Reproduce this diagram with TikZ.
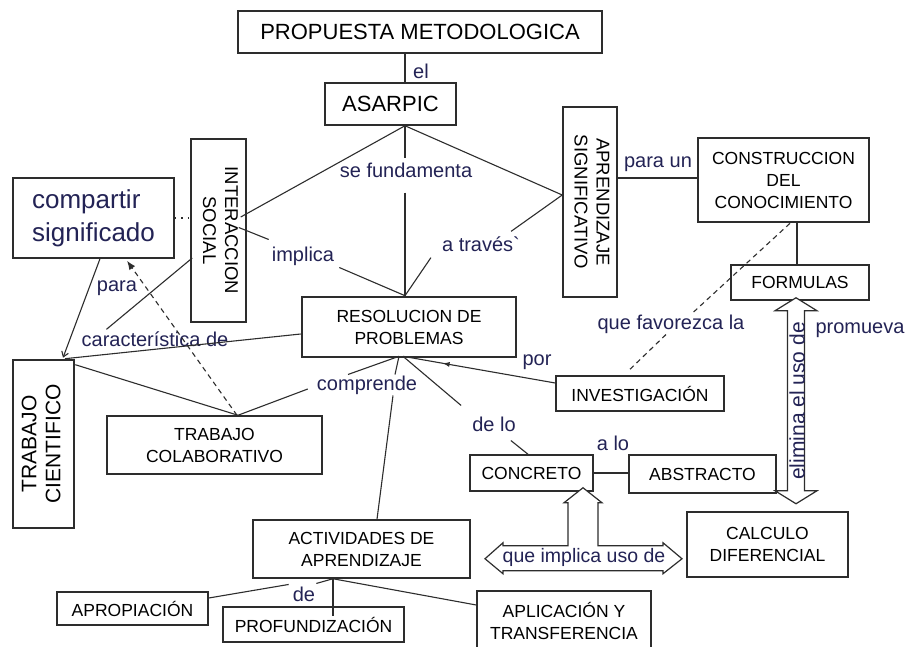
\documentclass[tikz,border=0pt]{standalone}
\usepackage{fontspec}
\setmainfont{Liberation Sans}
\usepackage{graphicx}
\usetikzlibrary{calc,arrows.meta,decorations.markings}
\definecolor{lab}{RGB}{35,35,85}
\definecolor{ln}{RGB}{45,45,45}
\begin{document}
\begin{tikzpicture}[x=1pt,y=-1pt,
  box/.style={draw=ln, line width=1.5pt, inner sep=0pt, align=center,
    font=\fontsize{17.5}{22}\selectfont, text=black},
  thickbox/.style={box, line width=2.6pt},
  vfont/.style={font=\fontsize{18.5}{22}\selectfont},
  lbl/.style={inner sep=1pt, text=lab, font=\fontsize{20}{22}\selectfont},
  conn/.style={draw=ln, line width=1.1pt},
  dconn/.style={conn, dash pattern=on 5pt off 4pt},
  fatarrow/.style={draw=ln, line width=1.2pt, fill=white, line join=miter}
]
\useasboundingbox (0,0) rectangle (906,646);
\fill[white] (0,0) rectangle (906,646);

% ---------- boxes ----------
\node[box, minimum width=364, minimum height=42, font=\fontsize{22}{24}\selectfont] (prop) at (420,32) {PROPUESTA METODOLOGICA};
\node[box, minimum width=131, minimum height=42, font=\fontsize{22}{24}\selectfont] (asa) at (390.5,104) {ASARPIC};
\node[box, vfont, minimum width=55, minimum height=183] (inter) at (218.5,230.5)
  {\rotatebox{-90}{\begin{tabular}{@{}c@{}}INTERACCION\\SOCIAL\end{tabular}}};
\node[box, minimum width=161, minimum height=80, align=left, text=lab,
  font=\fontsize{26}{33}\selectfont] (comp) at (93.5,218) {compartir\\significado};
\node[box, vfont, minimum width=54, minimum height=190] (aprend) at (590,202)
  {\rotatebox{-90}{\begin{tabular}{@{}c@{}}APRENDIZAJE\\SIGNIFICATIVO\end{tabular}}};
\node[thickbox, minimum width=171, minimum height=84] (constr) at (783.5,180) {CONSTRUCCION\\DEL\\CONOCIMIENTO};
\node[box, minimum width=138, minimum height=35] (form) at (800,282.5) {FORMULAS};
\node[thickbox, minimum width=214, minimum height=60] (res) at (409,327) {RESOLUCION DE\\PROBLEMAS};
\node[thickbox, font=\fontsize{21}{24}\selectfont, minimum width=61, minimum height=168] (tcient) at (43.5,444)
  {\rotatebox{90}{\begin{tabular}{@{}c@{}}TRABAJO\\CIENTIFICO\end{tabular}}};
\node[box, minimum width=215, minimum height=58] (tcol) at (214.5,445) {TRABAJO\\COLABORATIVO};
\node[box, minimum width=168, minimum height=35] (inv) at (640,393.5) {INVESTIGACIÓN};
\node[box, minimum width=123, minimum height=36] (conc) at (531.5,473) {CONCRETO};
\node[thickbox, minimum width=147, minimum height=38] (abs) at (702.5,474) {ABSTRACTO};
\node[box, minimum width=161, minimum height=65] (calc) at (767.5,544.5) {CALCULO\\DIFERENCIAL};
\node[box, minimum width=217, minimum height=58] (act) at (361.5,549) {ACTIVIDADES DE\\APRENDIZAJE};
\node[box, minimum width=151, minimum height=33] (apro) at (132.5,608.5) {APROPIACIÓN};
\node[box, minimum width=181, minimum height=35] (prof) at (313.5,624.5) {PROFUNDIZACIÓN};
\node[box, minimum width=174, minimum height=59] (apli) at (564,620.5) {APLICACIÓN Y\\TRANSFERENCIA};

% ---------- labels ----------
\node[lbl] (el) at (421,71) {el};
\node[lbl] (sefund) at (406,170) {se fundamenta};
\node[lbl] (implica) at (303,256) {implica};
\node[lbl] (atraves) at (481,244) {a través\textasciigrave};
\node[lbl] (paraun) at (658,164) {para un};
\node[lbl] (para) at (117,288) {para};
\node[lbl] (caract) at (155,339) {característica de};
\node[lbl] (compr) at (367,385) {comprende};
\node[lbl] (por) at (537,362) {por};
\node[lbl] (delo) at (494,424) {de lo};
\node[lbl] (alo) at (613,443) {a lo};
\node[lbl] (favor) at (671,324) {que favorezca la};
\node[lbl] (prom) at (860,330) {promueva};
\node[lbl] (de) at (304,594) {de};

% ---------- connectors ----------
\draw[conn] ($(prop.south)+(-15,0)$) -- ($(asa.north)+(14.5,0)$);
% ASARPIC hub
\draw[conn] ($(asa.south)+(14.5,0)$) -- ($(inter.east)+(-6,-13.5)$);
\draw[conn] ($(asa.south)+(14.5,0)$) -- ($(aprend.west)+(0,-7)$);
\draw[conn] ($(asa.south)+(14.5,0)$) -- ($(sefund.north)+(-1,-3)$);
\draw[conn] ($(sefund.south)+(-1,14)$) -- ($(res.north)+(-4,0)$);
% implica
\draw[conn] ($(inter.east)+(-8,-3)$) -- ($(implica.north west)+(-2,-6)$);
\draw[conn] ($(implica.south east)+(4,1)$) -- ($(res.north)+(-4,0)$);
% a traves
\draw[conn] ($(aprend.west)+(0,-7)$) -- ($(atraves.north east)+(-10,-4)$);
\draw[conn] ($(atraves.south west)+(-10,5)$) -- ($(res.north)+(-4,0)$);
% para un
\draw[conn] ($(aprend.east)+(0,-24)$) -- ($(constr.west)+(0,-2)$);
% construccion - formulas
\draw[conn] ($(constr.south)+(13.5,0)$) -- ($(form.north)+(-3,0)$);
% que favorezca la (dashed)
\draw[dconn] ($(constr.south)+(6.5,0)$) -- ($(favor.north)+(21,0)$);
\draw[dconn] ($(favor.south)+(-5,0)$) -- ($(inv.north)+(-10,-6)$);
% por
\draw[conn, decoration={markings, mark=at position 0.74 with {\arrow{Latex[length=7pt,width=5pt]}}},
  postaction={decorate}] ($(inv.west)+(0,-10.5)$) -- ($(res.south)+(-6,-2)$);
% de lo
\draw[conn] ($(res.south)+(-6,-2)$) -- ($(delo.north west)+(-10,-10)$);
\draw[conn] ($(delo.south east)+(-6,8)$) -- ($(conc.north)+(-3.5,0)$);
% a lo
\draw[conn] (conc.east) -- (conc.east -| abs.west);
% comprende
\draw[conn] ($(res.south)+(-10,-2)$) -- ($(compr.north)+(28,0)$);
\draw[conn] ($(res.south)+(-10,-2)$) -- ($(compr.north)+(-19,0)$);
\draw[conn] ($(compr.south)+(26,0)$) -- ($(act.north)+(15.5,0)$);
\draw[conn] ($(compr.west)+(-8,4)$) -- ($(tcol.north)+(23.5,0)$);
% trabajo cientifico - trabajo colaborativo
\draw[conn] ($(tcient.north east)+(0,6)$) -- ($(tcol.north)+(23.5,0)$);
% caracteristica de
\draw[conn] ($(res.west)+(0,7)$) -- ($(tcient.north)+(21.5,0)$);
\draw[conn] ($(inter.west)+(2,27.5)$) -- ($(caract.north west)+(26,-1)$);
% para
\draw[conn, -{Straight Barb[length=5pt,width=7pt]}] ($(comp.south)+(6.5,0)$) -- ($(tcient.north)+(19.5,-1)$);
\draw[dconn, -{Latex[length=9pt,width=7pt]}] ($(tcol.north)+(22.5,0)$) -- ($(comp.south)+(33.5,2)$);
% compartir - interaccion (dotted)
\draw[draw=ln, line width=1.1pt, dash pattern=on 1.5pt off 5pt] (comp.east) -- (comp.east -| inter.west);
% actividades
\draw[conn] ($(act.south)+(-28.5,0)$) -- ($(de.north east)+(0,-2)$);
\draw[conn] ($(de.north west)+(-3,-1)$) -- ($(apro.east)+(0,-10.5)$);
\draw[conn] ($(act.south)+(-28.5,0)$) -- ($(prof.north)+(19.5,10)$);
\draw[conn] ($(act.south)+(-28.5,0)$) -- ($(apli.west)+(0,-15.5)$);

% ---------- hollow double arrow: elimina el uso de ----------
\begin{scope}[shift={($(form.south)+(-4,0)$)}]
  \draw[fatarrow] (0,-3) -- (21,10) -- (8.5,10) -- (8.5,190) -- (21,190) -- (0,203)
    -- (-21,190) -- (-8.5,190) -- (-8.5,10) -- (-21,10) -- cycle;
\end{scope}
\node[lbl, rotate=90, font=\fontsize{21}{22}\selectfont] (elim) at (797,401) {elimina el uso de};

% ---------- three-way arrow: que implica uso de ----------
\begin{scope}[shift={($(conc.south)+(51.5,0)$)}]
  \draw[fatarrow] (-98,67) -- (-80,51) -- (-80,54) -- (-15,54) -- (-15,11) -- (-19,11)
    -- (0,-4) -- (19,11) -- (15,11) -- (15,54) -- (80,54) -- (80,51) -- (99,67)
    -- (80,82) -- (80,79) -- (-80,79) -- (-80,82) -- cycle;
\end{scope}
\node[lbl, font=\fontsize{19.5}{22}\selectfont] (implu) at (584,557) {que implica uso de};
\end{tikzpicture}
\end{document}
